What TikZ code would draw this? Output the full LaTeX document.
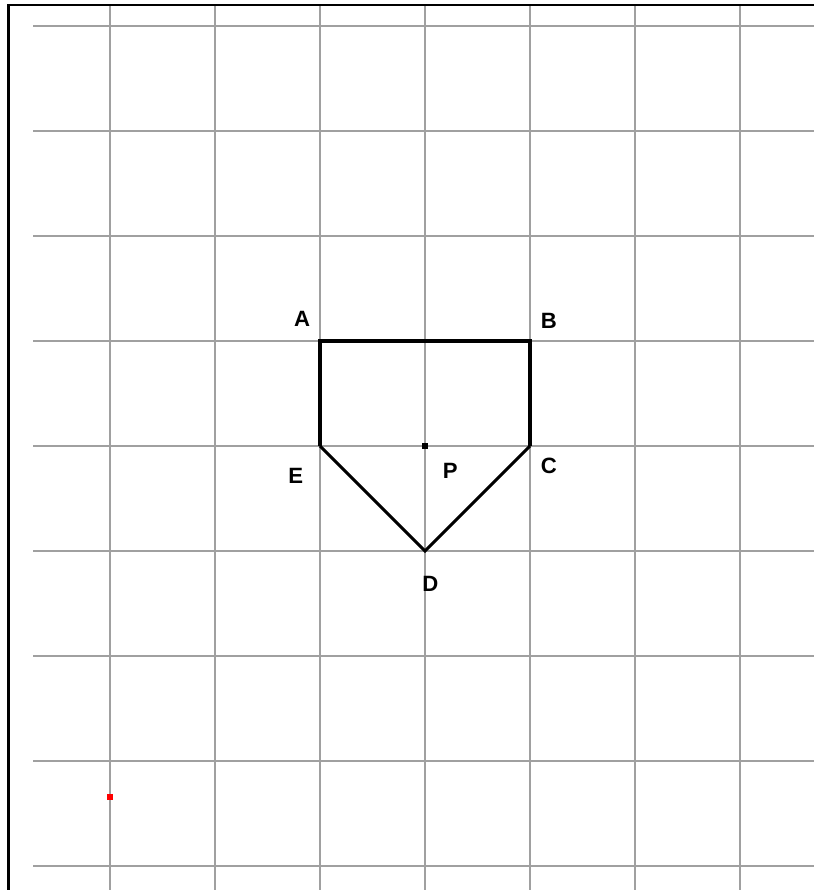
\documentclass[tikz,border=0pt]{standalone}
\usepackage{fontspec}
\setmainfont{Liberation Sans}
\usepackage{xcolor}
\usetikzlibrary{calc}
\definecolor{gridgrey}{HTML}{A0A0A0}
\definecolor{dotred}{HTML}{FF0000}
\tikzset{
  gridline/.style={gridgrey,line width=0.55pt},
  framebox/.style={black,line width=0.8pt},
  plate/.style={black,line width=1.1pt,line join=miter},
  platetip/.style={black,line width=0.8pt},
  ptlabel/.style={font=\bfseries\fontsize{6}{7}\selectfont,inner sep=0pt}
}

\begin{document}
\begin{tikzpicture}
  \useasboundingbox (-1.0476,-0.2286) rectangle (6.7048,8.2476);
  \fill[white] (-1.0476,-0.2286) rectangle (6.7048,8.2476);
  % grid
  \foreach \gx in {0,...,6}
    \draw[gridline] (\gx,8.2) -- (\gx,-0.2286);
  \foreach \gy in {0,...,8}
    \draw[gridline] (-0.733,\gy) -- (6.7048,\gy);
  % frame
  \draw[framebox] (-0.971,-0.2286) -- (-0.971,8.2) -- (6.7048,8.2);
  % plate
  \coordinate (A) at (2,5);
  \coordinate (B) at (4,5);
  \coordinate (C) at (4,4);
  \coordinate (D) at (3,3);
  \coordinate (E) at (2,4);
  \coordinate (P) at (3,4);
  \draw[plate] (E) -- (A) -- (B) -- (C);
  \draw[platetip] (C) -- (D) -- (E);
  \fill[black] ($(P)+(-0.025,-0.025)$) rectangle ($(P)+(0.025,0.025)$);
  \fill[dotred] (-0.025,0.63) rectangle (0.025,0.69);
  % labels
  \node[ptlabel] (lA) at (1.83,5.21) {A};
  \node[ptlabel] (lB) at (4.18,5.19) {B};
  \node[ptlabel] (lC) at (4.18,3.81) {C};
  \node[ptlabel] (lD) at (3.05,2.69) {D};
  \node[ptlabel] (lE) at (1.77,3.72) {E};
  \node[ptlabel] (lP) at (3.24,3.76) {P};
\end{tikzpicture}
\end{document}
